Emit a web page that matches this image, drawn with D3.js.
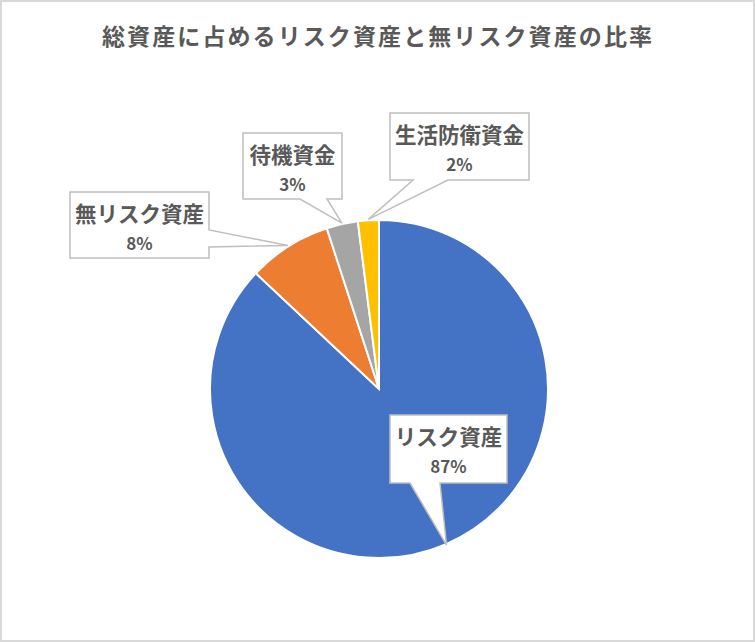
<!DOCTYPE html>
<html>
<head>
<meta charset="utf-8">
<script src="https://cdn.jsdelivr.net/npm/d3@7"></script>
<style>
  body { margin: 0; background: #fff; }
  text { font-family: "Noto Sans CJK JP", "Noto Sans", sans-serif; fill: #595959; font-weight: bold; }
</style>
</head>
<body>
<svg id="chart" width="755" height="642"></svg>
<script>
// data
var categories = ["リスク資産", "無リスク資産", "待機資金", "生活防衛資金"];
var values = [87, 8, 3, 2];
var colors = ["#4472C4", "#ED7D31", "#A5A5A5", "#FFC000"];

// label boxes (layout only)
var boxes = [
  { x: 390, y: 415, w: 117, h: 68, side: "bottom", a: 20, b: 50 },
  { x: 70,  y: 192, w: 139, h: 66, side: "right",  a: 38, b: 55 },
  { x: 243, y: 133, w: 99,  h: 66, side: "bottom", a: 57, b: 84 },
  { x: 390, y: 113, w: 139, h: 67, side: "bottom", a: 23, b: 58 }
];

var w = 755, h = 642,
    cx = 379, cy = 389, r = 169;

var svg = d3.select("#chart");

svg.append("rect")
  .attr("x", 1).attr("y", 1)
  .attr("width", w - 2).attr("height", h - 2)
  .attr("fill", "#fff")
  .attr("stroke", "#D9D9D9")
  .attr("stroke-width", 2);

svg.append("text")
  .attr("x", 102)
  .attr("y", 37)
  .attr("dy", "0.35em")
  .attr("font-size", 23)
  .attr("textLength", 550)
  .attr("lengthAdjust", "spacing")
  .text("総資産に占めるリスク資産と無リスク資産の比率");

var pie = d3.pie().sort(null).value(function(d) { return d; });
var arcs = pie(values);

var arc = d3.arc().innerRadius(0).outerRadius(r);
var tipArc = d3.arc().innerRadius(r + 1).outerRadius(r + 1);

var g = svg.append("g").attr("transform", "translate(" + cx + "," + cy + ")");

g.selectAll("path.slice")
  .data(arcs)
  .enter().append("path")
  .attr("class", "slice")
  .attr("d", arc)
  .attr("fill", function(d, i) { return colors[i]; })
  .attr("stroke", "#fff")
  .attr("stroke-width", 2);

/* callouts */
function callout(b, tx, ty) {
  var p = "M" + b.x + "," + b.y + "H" + (b.x + b.w);
  if (b.side == "bottom") {
    p += "V" + (b.y + b.h) + "H" + (b.x + b.b) + "L" + tx + "," + ty +
         "L" + (b.x + b.a) + "," + (b.y + b.h) + "H" + b.x + "Z";
  } else {
    p += "V" + (b.y + b.a) + "L" + tx + "," + ty +
         "L" + (b.x + b.w) + "," + (b.y + b.b) + "V" + (b.y + b.h) + "H" + b.x + "Z";
  }
  return p;
}

var labels = svg.selectAll("g.lbl")
  .data(arcs)
  .enter().append("g")
  .attr("class", "lbl");

labels.append("path")
  .attr("d", function(d, i) {
    var c = tipArc.centroid(d);
    return callout(boxes[i], cx + c[0], cy + c[1]);
  })
  .attr("fill", "#fff")
  .attr("stroke", "#BFBFBF")
  .attr("stroke-width", 1.5)
  .attr("stroke-linejoin", "miter");

labels.append("text")
  .attr("x", function(d, i) { return boxes[i].x + boxes[i].w / 2; })
  .attr("y", function(d, i) { return boxes[i].y + 22; })
  .attr("dy", "0.35em")
  .attr("text-anchor", "middle")
  .attr("font-size", 21.5)
  .text(function(d, i) { return categories[i]; });

labels.append("text")
  .attr("x", function(d, i) { return boxes[i].x + boxes[i].w / 2; })
  .attr("y", function(d, i) { return boxes[i].y + 52; })
  .attr("dy", "0.35em")
  .attr("text-anchor", "middle")
  .attr("font-size", 17)
  .text(function(d, i) { return d3.format(".0%")(d.value / d3.sum(values)); });
</script>
</body>
</html>
